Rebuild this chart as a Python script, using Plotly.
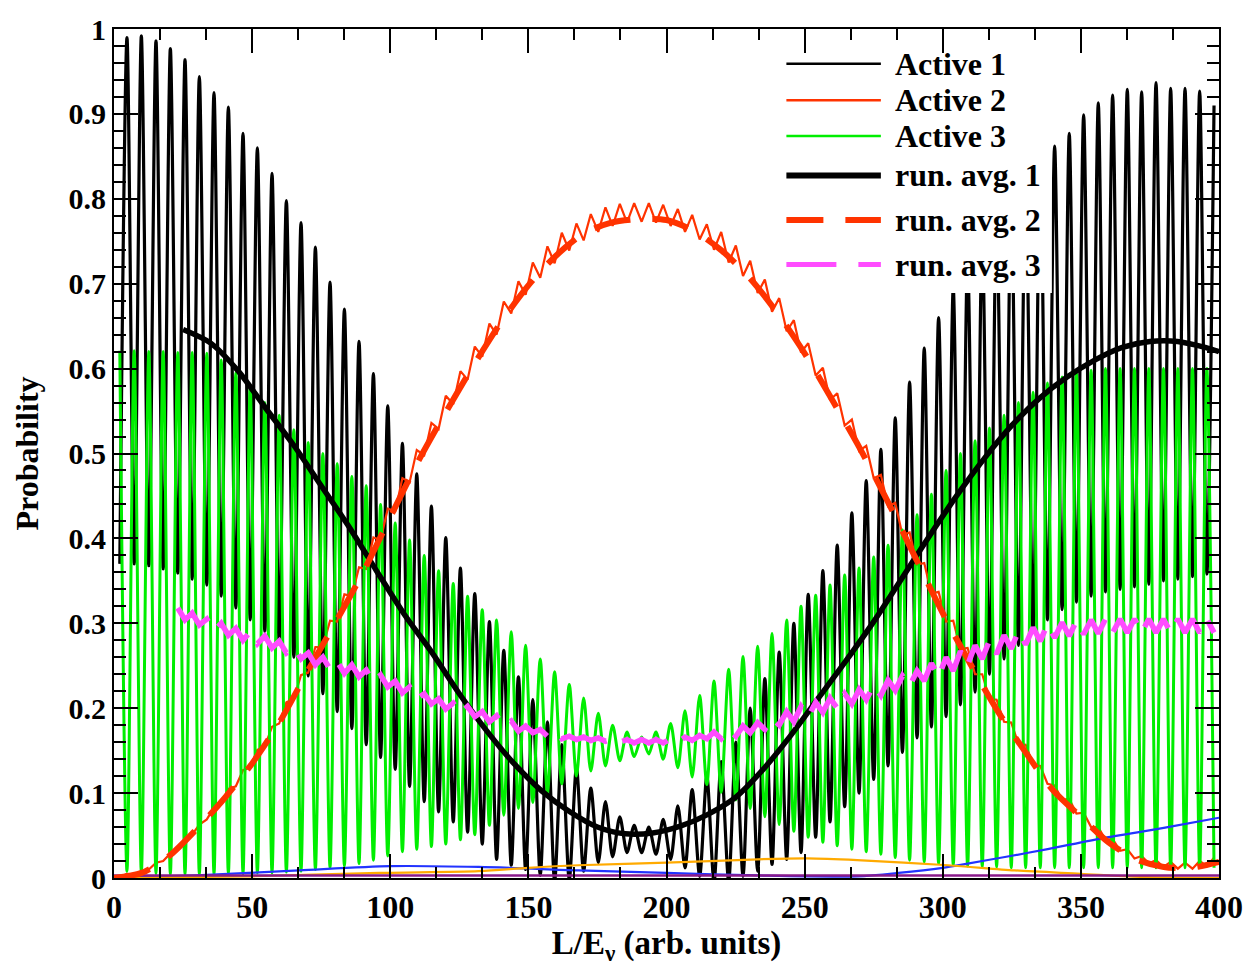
import plotly.graph_objects as go

# L/E positions of the oscillation extrema (maxima of Active 1, minima of Active 3)
X_MAX = [4.7, 9.9, 15.2, 20.4, 25.7, 30.9, 36.2, 41.4, 46.7, 51.9,
         57.2, 62.4, 67.7, 72.9, 78.2, 83.4, 88.7, 93.9, 99.1, 104.4,
         109.6, 114.9, 120.1, 125.4, 130.6, 135.9, 141.1, 146.4, 151.6, 156.9,
         162.1, 167.4, 172.6, 177.9, 183.1, 188.3, 193.6, 198.8, 204.1, 209.3,
         214.6, 219.8, 225.1, 230.3, 235.6, 240.8, 246.1, 251.3, 256.6, 261.8,
         267.1, 272.3, 277.6, 282.8, 288.0, 293.3, 298.5, 303.8, 309.0, 314.3,
         319.5, 324.8, 330.0, 335.3, 340.5, 345.8, 351.0, 356.3, 361.5, 366.8,
         372.0, 377.2, 382.5, 387.7, 393.0, 398.2]
# L/E positions of the opposite extrema (minima of Active 1, maxima of Active 3)
X_MIN = [2.1, 7.3, 12.6, 17.8, 23.1, 28.3, 33.6, 38.8, 44.1, 49.3,
         54.6, 59.8, 65.1, 70.3, 75.6, 80.8, 86.1, 91.3, 96.5, 101.8,
         107.0, 112.3, 117.5, 122.8, 128.0, 133.3, 138.5, 143.8, 149.0, 154.3,
         159.5, 164.8, 170.0, 175.3, 180.5, 185.7, 191.0, 196.2, 201.5, 206.7,
         212.0, 217.2, 222.5, 227.7, 233.0, 238.2, 243.5, 248.7, 254.0, 259.2,
         264.5, 269.7, 275.0, 280.2, 285.4, 290.7, 295.9, 301.2, 306.4, 311.7,
         316.9, 322.2, 327.4, 332.7, 337.9, 343.2, 348.4, 353.7, 358.9, 364.2,
         369.4, 374.6, 379.9, 385.1, 390.4, 395.6]

# Active 1: values at X_MAX and at X_MIN
ACTIVE1_MAX = [0.990, 0.992, 0.986, 0.977, 0.964, 0.944, 0.925, 0.908, 0.877, 0.860,
               0.830, 0.798, 0.772, 0.743, 0.702, 0.670, 0.632, 0.594, 0.556, 0.512,
               0.476, 0.438, 0.401, 0.365, 0.335, 0.302, 0.268, 0.237, 0.210, 0.184,
               0.157, 0.130, 0.106, 0.090, 0.072, 0.062, 0.060, 0.069, 0.085, 0.104,
               0.120, 0.137, 0.160, 0.200, 0.235, 0.266, 0.300, 0.334, 0.362, 0.392,
               0.430, 0.468, 0.505, 0.542, 0.584, 0.624, 0.660, 0.695, 0.730, 0.760,
               0.786, 0.810, 0.832, 0.850, 0.862, 0.877, 0.899, 0.913, 0.922, 0.929,
               0.926, 0.937, 0.930, 0.930, 0.927, 0.910]
ACTIVE1_MIN = [0.370, 0.370, 0.368, 0.364, 0.359, 0.352, 0.345, 0.332, 0.318, 0.304,
               0.290, 0.276, 0.260, 0.238, 0.217, 0.196, 0.176, 0.157, 0.142, 0.128,
               0.108, 0.090, 0.078, 0.066, 0.054, 0.040, 0.022, 0.015, 0.010, 0.003,
               -0.004, -0.002, 0.008, 0.018, 0.025, 0.030, 0.030, 0.028, 0.022, 0.012,
               0.002, -0.005, -0.004, 0.002, 0.008, 0.016, 0.022, 0.030, 0.048, 0.066,
               0.084, 0.100, 0.116, 0.132, 0.148, 0.165, 0.178, 0.190, 0.204, 0.219,
               0.240, 0.258, 0.274, 0.290, 0.304, 0.316, 0.325, 0.332, 0.337, 0.340,
               0.343, 0.346, 0.350, 0.352, 0.355, 0.358]

# Active 2: values at X_MIN and at X_MAX
ACTIVE2_LOW = [0.000, 0.003, 0.010, 0.020, 0.034, 0.051, 0.069, 0.088, 0.108, 0.130,
               0.155, 0.182, 0.211, 0.242, 0.272, 0.302, 0.332, 0.364, 0.398, 0.432,
               0.466, 0.498, 0.529, 0.558, 0.587, 0.614, 0.640, 0.665, 0.687, 0.707,
               0.724, 0.739, 0.751, 0.761, 0.768, 0.772, 0.773, 0.772, 0.768, 0.761,
               0.752, 0.740, 0.725, 0.709, 0.689, 0.667, 0.644, 0.619, 0.592, 0.563,
               0.533, 0.503, 0.471, 0.438, 0.404, 0.369, 0.335, 0.302, 0.270, 0.240,
               0.211, 0.184, 0.158, 0.134, 0.111, 0.092, 0.076, 0.060, 0.045, 0.032,
               0.023, 0.017, 0.013, 0.011, 0.011, 0.014]
ACTIVE2_HIGH = [0.005, 0.008, 0.018, 0.029, 0.046, 0.063, 0.083, 0.105, 0.127, 0.151,
                0.178, 0.207, 0.239, 0.272, 0.303, 0.334, 0.366, 0.401, 0.435, 0.471,
                0.504, 0.536, 0.568, 0.597, 0.626, 0.653, 0.679, 0.703, 0.725, 0.744,
                0.760, 0.771, 0.782, 0.790, 0.794, 0.795, 0.795, 0.793, 0.788, 0.781,
                0.770, 0.761, 0.745, 0.727, 0.705, 0.683, 0.657, 0.630, 0.601, 0.571,
                0.540, 0.509, 0.475, 0.442, 0.407, 0.371, 0.337, 0.303, 0.271, 0.240,
                0.210, 0.183, 0.157, 0.132, 0.109, 0.093, 0.077, 0.060, 0.046, 0.034,
                0.026, 0.021, 0.019, 0.018, 0.020, 0.024]

# Active 3: values at X_MIN and at X_MAX
ACTIVE3_MAX = [0.621, 0.621, 0.620, 0.620, 0.619, 0.619, 0.618, 0.610, 0.595, 0.578,
               0.560, 0.545, 0.528, 0.513, 0.500, 0.488, 0.473, 0.462, 0.440, 0.418,
               0.398, 0.380, 0.362, 0.347, 0.332, 0.316, 0.304, 0.290, 0.274, 0.258,
               0.243, 0.228, 0.212, 0.194, 0.180, 0.172, 0.166, 0.172, 0.182, 0.197,
               0.215, 0.232, 0.246, 0.261, 0.273, 0.288, 0.304, 0.320, 0.333, 0.345,
               0.357, 0.365, 0.378, 0.392, 0.410, 0.428, 0.452, 0.480, 0.500, 0.515,
               0.530, 0.545, 0.560, 0.572, 0.583, 0.590, 0.595, 0.598, 0.600, 0.600,
               0.600, 0.600, 0.600, 0.600, 0.600, 0.600]
ACTIVE3_MIN = [0.008, 0.006, 0.005, 0.004, 0.004, 0.004, 0.004, 0.005, 0.005, 0.006,
               0.006, 0.007, 0.008, 0.010, 0.012, 0.014, 0.017, 0.021, 0.026, 0.031,
               0.034, 0.037, 0.040, 0.045, 0.051, 0.062, 0.074, 0.082, 0.089, 0.100,
               0.111, 0.120, 0.126, 0.132, 0.138, 0.143, 0.146, 0.140, 0.130, 0.119,
               0.110, 0.101, 0.092, 0.082, 0.072, 0.063, 0.055, 0.048, 0.042, 0.038,
               0.034, 0.031, 0.028, 0.024, 0.021, 0.019, 0.017, 0.015, 0.014, 0.013,
               0.013, 0.012, 0.012, 0.012, 0.012, 0.012, 0.012, 0.012, 0.012, 0.012,
               0.012, 0.012, 0.012, 0.012, 0.012, 0.012]

# running average 1 (Active 1)
RUN1_X = [25, 35, 45, 55, 65, 75, 85, 95, 105, 115,
          125, 135, 145, 155, 165, 175, 185, 195, 205, 215,
          225, 235, 245, 255, 265, 275, 285, 295, 305, 315,
          325, 335, 345, 355, 365, 375, 385, 395, 400]
RUN1 = [0.646, 0.630, 0.597, 0.553, 0.510, 0.462, 0.414, 0.362, 0.311, 0.266,
        0.217, 0.173, 0.134, 0.102, 0.078, 0.060, 0.052, 0.053, 0.061, 0.075,
        0.095, 0.128, 0.168, 0.212, 0.256, 0.302, 0.352, 0.402, 0.450, 0.494,
        0.533, 0.565, 0.590, 0.610, 0.625, 0.632, 0.632, 0.625, 0.620]

# running average 2 (Active 2)
RUN2_X = [0, 10, 20, 30, 40, 50, 60, 70, 80, 90,
          100, 110, 120, 130, 140, 150, 160, 170, 180, 190,
          200, 210, 220, 230, 240, 250, 260, 270, 280, 290,
          300, 310, 320, 330, 340, 350, 360, 370, 380, 390, 400]
RUN2 = [0.000, 0.006, 0.026, 0.058, 0.094, 0.135, 0.184, 0.243, 0.300, 0.359,
        0.425, 0.490, 0.548, 0.603, 0.654, 0.698, 0.733, 0.759, 0.772, 0.776,
        0.775, 0.762, 0.739, 0.707, 0.666, 0.618, 0.563, 0.506, 0.444, 0.378,
        0.312, 0.252, 0.196, 0.148, 0.103, 0.072, 0.042, 0.022, 0.013, 0.012,
        0.019]

# running average 3 (Active 3): values at X_MIN[4:] and X_MAX[4:]
RUN3_HIGH = [0.318, 0.312, 0.305, 0.300, 0.294, 0.290, 0.285, 0.279, 0.272, 0.265,
             0.260, 0.255, 0.251, 0.245, 0.239, 0.232, 0.225, 0.217, 0.211, 0.206,
             0.202, 0.196, 0.191, 0.185, 0.179, 0.175, 0.172, 0.167, 0.166, 0.165,
             0.164, 0.163, 0.163, 0.163, 0.164, 0.166, 0.168, 0.172, 0.175, 0.179,
             0.183, 0.188, 0.196, 0.202, 0.207, 0.212, 0.217, 0.222, 0.227, 0.233,
             0.238, 0.244, 0.253, 0.260, 0.267, 0.274, 0.280, 0.286, 0.291, 0.295,
             0.299, 0.301, 0.303, 0.304, 0.305, 0.305, 0.305, 0.305, 0.305, 0.305,
             0.305, 0.305]
RUN3_LOW = [0.304, 0.298, 0.291, 0.286, 0.280, 0.276, 0.271, 0.265, 0.258, 0.251,
            0.246, 0.241, 0.237, 0.231, 0.225, 0.218, 0.211, 0.205, 0.199, 0.194,
            0.190, 0.184, 0.179, 0.173, 0.171, 0.167, 0.164, 0.163, 0.162, 0.161,
            0.160, 0.159, 0.159, 0.159, 0.160, 0.162, 0.164, 0.164, 0.167, 0.171,
            0.175, 0.180, 0.184, 0.190, 0.195, 0.200, 0.205, 0.210, 0.215, 0.221,
            0.226, 0.232, 0.237, 0.244, 0.251, 0.258, 0.264, 0.270, 0.275, 0.279,
            0.283, 0.285, 0.287, 0.288, 0.289, 0.289, 0.289, 0.289, 0.289, 0.289,
            0.289, 0.289]

# small additional channels
BLUE_X = [0, 30, 67, 100, 132, 168, 200, 233, 269, 284, 300, 309, 323, 338, 358, 380, 400]
BLUE = [0.000, 0.003, 0.009, 0.014, 0.013, 0.009, 0.006, 0.003, 0.002, 0.006,
        0.012, 0.017, 0.025, 0.034, 0.047, 0.059, 0.071]
ORANGE_X = [0, 50, 96, 132, 150, 168, 200, 233, 251, 269, 302, 326, 350, 374, 400]
ORANGE = [0.000, 0.002, 0.006, 0.008, 0.012, 0.015, 0.018, 0.022, 0.023, 0.021,
          0.015, 0.009, 0.005, 0.001, 0.000]
PURPLE_X = [0, 400]
PURPLE = [0.003, 0.003]

LEGEND_LABELS = ["Active 1", "Active 2", "Active 3", "run. avg. 1", "run. avg. 2", "run. avg. 3"]

BLACK = "#000000"
RED = "#ff3300"
GREEN = "#00ee00"
PINK = "#ff4cff"
FONT = "Liberation Serif, Times New Roman, serif"


def interleave(xa, ya, xb, yb):
    xs, ys = [], []
    for a, b, c, d in zip(xa, ya, xb, yb):
        xs += [a, c]
        ys += [b, d]
    return xs, ys


fig = go.Figure()


def add_line(x, y, color, width, dash="solid", shape="spline"):
    fig.add_trace(go.Scatter(x=x, y=y, mode="lines", showlegend=False, hoverinfo="skip",
                             line=dict(color=color, width=width, dash=dash, shape=shape,
                                       smoothing=0.8 if shape == "spline" else None)))


x1, y1 = interleave(X_MIN, ACTIVE1_MIN, X_MAX, ACTIVE1_MAX)
add_line(x1, y1, BLACK, 3.2)
x2, y2 = interleave(X_MIN, ACTIVE2_LOW, X_MAX, ACTIVE2_HIGH)
add_line(x2, y2, RED, 2.2, shape="linear")
x3, y3 = interleave(X_MIN, ACTIVE3_MAX, X_MAX, ACTIVE3_MIN)
add_line(x3, y3, GREEN, 3.0)
add_line(BLUE_X, BLUE, "#2233ff", 2.2)
add_line(ORANGE_X, ORANGE, "#ffaa00", 2.2)
add_line(PURPLE_X, PURPLE, "#8a1a8a", 2.5, shape="linear")
add_line(RUN1_X, RUN1, BLACK, 5.5)
add_line(RUN2_X, RUN2, RED, 6, dash="37px,22px")
xr3, yr3 = interleave(X_MIN[4:], RUN3_HIGH, X_MAX[4:], RUN3_LOW)
add_line(xr3, yr3, PINK, 5.5, dash="50px,17px", shape="linear")

# legend panel drawn in data coordinates of the upper right corner
shapes = [dict(type="rect", xref="x", yref="y", x0=240.5, x1=339.5, y0=0.689, y1=0.966,
               fillcolor="white", line=dict(width=0), layer="above")]
leg_rows = [0.959, 0.916, 0.874, 0.8275, 0.775, 0.7226]
leg_style = [(BLACK, 2.5, "solid"), (RED, 2.5, "solid"), (GREEN, 2.5, "solid"),
             (BLACK, 6, "solid"), (RED, 6, "37px,22px"), (PINK, 5, "50px,22px")]
annotations = []
for label, yrow, (col, w, dsh) in zip(LEGEND_LABELS, leg_rows, leg_style):
    shapes.append(dict(type="line", xref="x", yref="y", x0=243.4, x1=277.6, y0=yrow, y1=yrow,
                       line=dict(color=col, width=w, dash=dsh), layer="above"))
    annotations.append(dict(xref="x", yref="y", x=282.0, y=yrow, text=label,
                            showarrow=False, xanchor="left", yanchor="middle",
                            font=dict(family=FONT, size=32, color="black", weight="bold")))

axis_common = dict(showline=True, linewidth=2, linecolor="black", mirror="allticks",
                   ticks="inside", tickwidth=1.5, tickcolor="black", showgrid=False,
                   zeroline=False)

fig.update_layout(
    width=1255, height=967,
    margin=dict(l=114, r=33, t=20, b=89),
    paper_bgcolor="white", plot_bgcolor="white",
    showlegend=False,
    shapes=shapes, annotations=annotations,
    xaxis=dict(range=[0, 400], tick0=0, dtick=50, ticklen=24,
               minor=dict(dtick=50 / 3, ticklen=11, tickwidth=1.5, ticks="inside", tickcolor="black"),
               tickfont=dict(family=FONT, size=32, color="black", weight="bold"),
               title=dict(text="L/E<sub>ν</sub> (arb. units)", standoff=4,
                          font=dict(family=FONT, size=33, color="black", weight="bold")),
               **axis_common),
    yaxis=dict(range=[0, 1], tick0=0, dtick=0.1, ticklen=24,
               minor=dict(dtick=0.02, ticklen=12, tickwidth=1.5, ticks="inside", tickcolor="black"),
               tickfont=dict(family=FONT, size=30, color="black", weight="bold"),
               title=dict(text="Probability", standoff=20,
                          font=dict(family=FONT, size=32, color="black", weight="bold")),
               **axis_common),
)

fig.write_html("out.html", config={"displayModeBar": False})
